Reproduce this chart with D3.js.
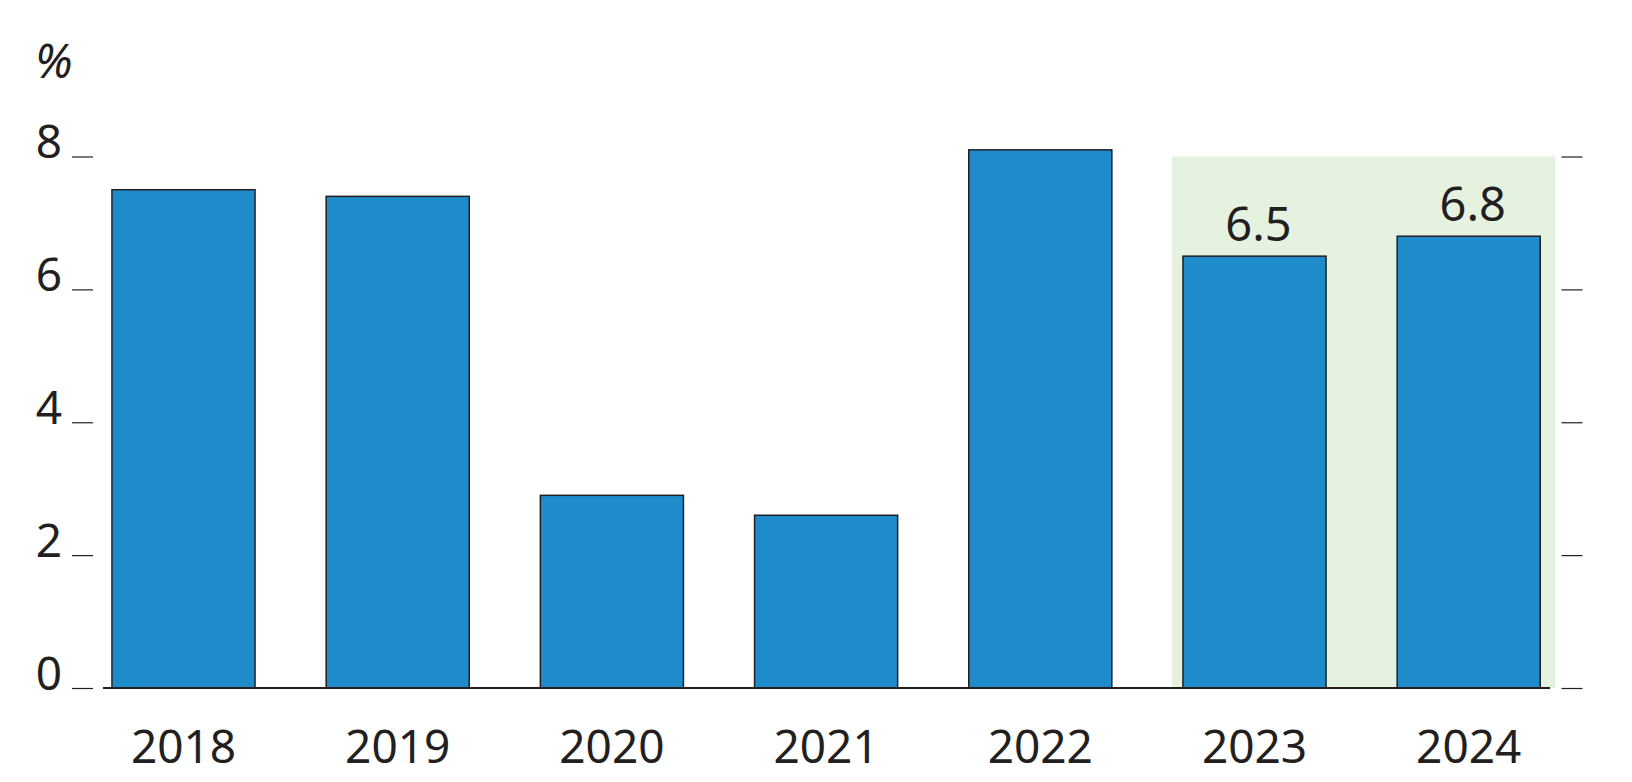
<!DOCTYPE html>
<html>
<head>
<meta charset="utf-8">
<script src="https://cdn.jsdelivr.net/npm/d3@7"></script>
<style>
  html, body { margin: 0; padding: 0; background: #fff; }
  svg { display: block; }
  text { font-family: "Noto Sans", "Open Sans", sans-serif; fill: #231f20; }
</style>
</head>
<body>
<svg id="chart" width="1632" height="782"></svg>
<script>
const years = ["2018", "2019", "2020", "2021", "2022", "2023", "2024"];
const growth = [7.5, 7.4, 2.9, 2.6, 8.1, 6.5, 6.8];
const yTicks = [0, 2, 4, 6, 8];
const highlighted = ["2023", "2024"];
const valueLabels = ["", "", "", "", "", "6.5", "6.8"];
const unitLabel = "%";

const data = years.map((y, i) => ({ year: y, value: growth[i], label: valueLabels[i] }));

const svg = d3.select("#chart");

const x = d3.scaleBand()
  .domain(years)
  .range([76.4, 1575.8])
  .paddingInner(0.332)
  .paddingOuter(0.166);

const y = d3.scaleLinear()
  .domain([0, 8])
  .range([688, 156.5]);

// Highlight shading
const hx0 = x(highlighted[0]) - 11;
const hx1 = x(highlighted[highlighted.length - 1]) + x.bandwidth() + 15;
svg.append("rect")
  .attr("x", hx0)
  .attr("y", y(8))
  .attr("width", hx1 - hx0)
  .attr("height", y(0) - y(8))
  .attr("fill", "#e6f2e0");

// Bars
svg.append("g").selectAll("rect")
  .data(data)
  .join("rect")
  .attr("x", d => x(d.year))
  .attr("y", d => y(d.value))
  .attr("width", x.bandwidth())
  .attr("height", d => y(0) - y(d.value))
  .attr("fill", "#1e8bcb")
  .attr("stroke", "#231f20")
  .attr("stroke-width", 1.5);

// Baseline
svg.append("line")
  .attr("x1", 103).attr("x2", 1550)
  .attr("y1", y(0)).attr("y2", y(0))
  .attr("stroke", "#231f20")
  .attr("stroke-width", 2.2);

// Left axis
const leftAxis = d3.axisLeft(y)
  .tickValues(yTicks)
  .tickSize(21)
  .tickPadding(10)
  .tickFormat(d3.format("d"));
const gl = svg.append("g")
  .attr("transform", "translate(93,0)")
  .call(leftAxis);
gl.select(".domain").remove();
gl.selectAll(".tick line").attr("stroke", "#231f20").attr("stroke-width", 1.2);
gl.selectAll(".tick text")
  .attr("font-size", 46)
  .attr("font-family", "'Noto Sans', sans-serif")
  .attr("fill", "#231f20")
  .attr("dy", "0")
  .attr("y", 1)
  .attr("x", -31);

// Right axis ticks
const rightAxis = d3.axisRight(y)
  .tickValues(yTicks)
  .tickSize(21)
  .tickFormat("");
const gr = svg.append("g")
  .attr("transform", "translate(1561.5,0)")
  .call(rightAxis);
gr.select(".domain").remove();
gr.selectAll(".tick line").attr("stroke", "#231f20").attr("stroke-width", 1.2);

// X axis labels
const bottomAxis = d3.axisBottom(x).tickSize(0).tickPadding(0);
const gb = svg.append("g")
  .attr("transform", "translate(0," + y(0) + ")")
  .call(bottomAxis);
gb.select(".domain").remove();
gb.selectAll(".tick text")
  .attr("font-size", 46)
  .attr("font-family", "'Noto Sans', sans-serif")
  .attr("fill", "#231f20")
  .attr("dy", "0")
  .attr("y", 75);

// Value labels
svg.append("g").selectAll("text")
  .data(data.filter(d => d.label))
  .join("text")
  .attr("x", d => x(d.year) + x.bandwidth() / 2 + 4)
  .attr("y", d => y(d.value) - 15)
  .attr("text-anchor", "middle")
  .attr("font-size", 47)
  .text(d => d.label);

// Unit label
svg.append("text")
  .attr("x", 35)
  .attr("y", 78)
  .attr("font-size", 47)
  .attr("font-style", "italic")
  .text(unitLabel);
</script>
</body>
</html>
